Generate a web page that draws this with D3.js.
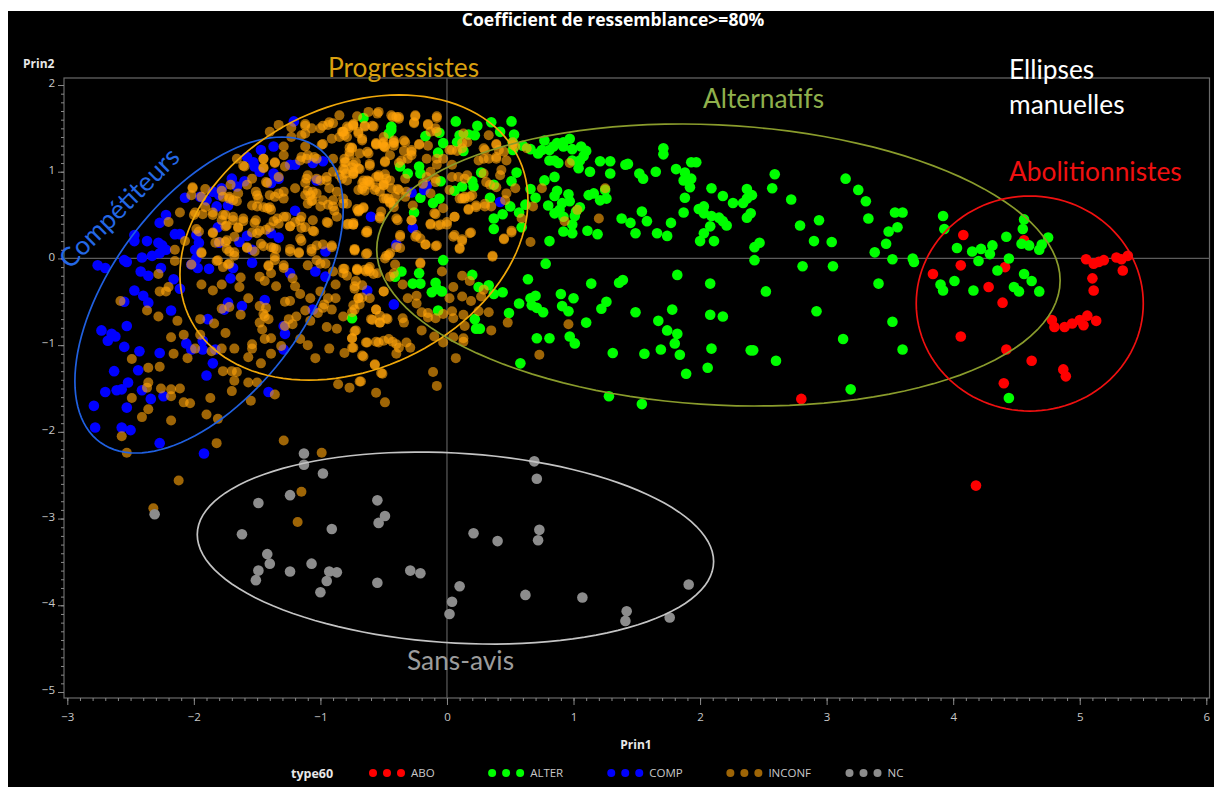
<!DOCTYPE html>
<html>
<head>
<meta charset="utf-8">
<script src="https://cdn.jsdelivr.net/npm/d3@7"></script>
<style>
  html, body { margin: 0; padding: 0; background: #fff; }
  svg { display: block; }
  text { font-family: "Open Sans", sans-serif; }
  .big { font-family: Lato, sans-serif; font-size: 26.3px; }
</style>
</head>
<body>
<div id="graph"></div>
<script>
// The data as [Prin1, Prin2]
const aboPoints = [[2.80,-1.62],[4.08,0.27],[4.56,0.21],[4.06,-0.08],[4.41,-0.10],[3.84,-0.18],[4.28,-0.33],[4.39,-0.51],[4.06,-0.90],[4.42,-1.05],[4.62,-1.18],[4.40,-1.44],[4.87,-1.28],[4.89,-1.36],[4.18,-2.62],[5.05,-0.01],[5.11,-0.06],[5.15,-0.04],[5.19,-0.02],[5.29,0.01],[5.33,-0.01],[5.38,0.03],[5.34,-0.14],[5.10,-0.23],[5.11,-0.37],[4.78,-0.71],[4.80,-0.79],[4.88,-0.79],[4.94,-0.75],[5.00,-0.71],[5.03,-0.77],[5.06,-0.66],[5.13,-0.72]];

const alterPoints = [[-0.66,1.62],[-0.44,1.52],[-0.44,1.48],[-0.46,1.44],[0.07,1.58],[0.24,1.53],[0.35,1.57],[0.51,1.58],[0.42,1.46],[0.53,1.43],[-0.06,1.45],[-0.17,1.41],[-0.03,1.33],[0.10,1.42],[0.17,1.43],[0.22,1.42],[0.08,1.34],[-0.07,1.22],[0.13,1.24],[0.52,1.25],[0.52,1.34],[0.60,1.30],[0.66,1.26],[0.72,1.21],[0.75,1.25],[0.77,1.36],[0.81,1.25],[0.84,1.29],[0.87,1.33],[0.92,1.34],[0.97,1.38],[0.92,1.29],[0.99,1.26],[1.06,1.29],[1.10,1.24],[1.08,1.18],[0.81,1.13],[0.88,1.10],[0.85,1.13],[0.99,1.13],[1.05,1.13],[1.04,1.04],[1.13,1.00],[1.21,1.12],[1.29,1.12],[1.29,0.98],[1.41,1.08],[1.43,1.09],[1.52,0.98],[1.55,0.92],[1.65,1.00],[1.71,1.27],[1.71,1.20],[1.81,1.03],[1.88,0.99],[1.93,1.11],[1.97,1.11],[1.93,0.92],[1.87,0.90],[1.92,0.82],[1.88,0.70],[2.09,0.81],[2.18,0.72],[2.26,0.64],[2.34,0.64],[2.37,0.80],[2.37,0.69],[2.37,0.47],[1.99,0.57],[2.03,0.60],[2.03,0.52],[2.09,0.49],[2.15,0.47],[2.18,0.43],[2.21,0.38],[2.08,0.37],[2.03,0.29],[2.00,0.20],[2.11,0.20],[1.87,0.53],[1.54,0.54],[1.58,0.43],[1.38,0.46],[1.45,0.41],[1.49,0.29],[1.66,0.29],[1.74,0.26],[1.77,0.41],[0.77,0.90],[0.85,0.94],[0.66,0.80],[0.70,0.70],[0.87,0.78],[0.85,0.72],[0.96,0.74],[0.97,0.66],[0.91,0.64],[0.80,0.61],[0.89,0.56],[0.85,0.52],[0.92,0.48],[1.05,0.59],[1.02,0.54],[1.01,0.49],[0.99,0.39],[0.92,0.31],[0.99,0.29],[1.11,0.32],[1.19,0.28],[1.12,0.73],[1.16,0.75],[1.25,0.79],[1.21,0.67],[1.26,0.69],[0.62,0.62],[0.50,0.60],[0.44,0.51],[0.37,0.46],[0.37,0.34],[0.57,0.53],[0.59,0.36],[0.81,0.20],[0.55,0.99],[0.51,0.89],[0.27,0.99],[0.20,0.89],[0.21,0.83],[0.12,0.83],[0.06,0.78],[-0.05,0.89],[-0.31,0.98],[-0.22,1.06],[-0.21,0.98],[-0.37,1.06],[-0.21,0.70],[-0.06,0.69],[-0.11,0.64],[-0.26,0.53],[0.34,0.70],[0.37,0.85],[-0.03,-0.02],[0.78,-0.06],[-0.36,-0.15],[-0.22,-0.17],[-0.41,-0.21],[-0.27,-0.29],[-0.21,-0.29],[-0.09,-0.28],[-0.12,-0.39],[-0.08,-0.35],[-0.04,-0.38],[0.20,-0.19],[0.33,-0.31],[0.25,-0.33],[0.37,-0.41],[0.44,-0.39],[-0.07,-0.60],[0.22,-0.70],[0.23,-0.81],[0.26,-0.81],[0.49,-0.63],[0.57,-0.52],[0.64,-0.24],[0.66,-0.46],[0.70,-0.43],[0.67,-0.54],[0.71,-0.57],[0.76,-0.62],[0.90,-0.41],[1.00,-0.46],[0.91,-0.55],[0.96,-0.61],[1.14,-0.29],[1.36,-0.28],[1.39,-0.25],[1.26,-0.50],[1.22,-0.58],[1.10,-0.74],[1.49,-0.62],[1.78,-0.59],[1.67,-0.72],[1.82,-0.19],[2.08,-0.29],[2.08,-0.65],[2.18,-0.67],[1.74,-0.83],[1.82,-0.87],[1.80,-0.98],[1.69,-1.05],[1.84,-1.11],[2.09,-1.04],[2.40,-1.06],[2.06,-1.26],[1.89,-1.33],[1.56,-1.10],[1.31,-1.09],[1.01,-0.98],[0.97,-0.90],[0.81,-0.92],[0.71,-0.92],[0.58,-1.21],[1.28,-1.59],[1.54,-1.68],[-0.75,-0.69],
  [2.59,0.97],[2.57,0.81],[2.72,0.68],[3.15,0.92],[3.25,0.79],[3.31,0.66],[3.33,0.46],[3.54,0.53],[3.60,0.53],[3.56,0.36],[3.49,0.31],[3.47,0.17],[3.38,0.07],[3.52,-0.01],[3.68,0.00],[3.69,-0.04],[3.92,0.49],[3.93,0.34],[2.79,0.38],[2.94,0.44],[2.90,0.20],[3.04,0.19],[2.81,-0.09],[3.05,-0.09],[2.47,0.18],[2.43,0.13],[2.43,-0.02],[2.52,-0.38],[3.41,-0.29],[2.92,-0.61],[3.52,-0.73],[3.13,-0.93],[3.60,-1.05],[2.42,-1.06],[2.60,-1.18],[3.19,-1.51],[2.41,0.73],[2.40,0.52],
  [4.03,0.12],[4.15,0.08],[4.22,0.11],[4.31,0.15],[4.42,0.25],[4.29,0.05],[4.20,-0.03],[4.44,0.00],[4.35,-0.14],[4.56,-0.18],[4.62,-0.26],[4.48,-0.33],[4.52,-0.38],[4.68,-0.38],[4.16,-0.37],[4.01,-0.26],[3.90,-0.30],[3.92,-0.37],[4.44,-1.61],[4.56,0.45],[4.55,0.34],[4.54,0.17],[4.60,0.15],[4.68,0.10],[4.70,0.16],[4.75,0.24]];

const compPoints = [[-1.21,1.58],[-1.47,1.25],[-1.37,1.29],[-1.58,1.17],[-1.53,1.11],[-1.52,1.06],[-1.48,1.00],[-1.37,0.98],[-1.33,0.92],[-1.39,0.87],[-1.70,0.92],[-1.66,0.83],[-1.60,0.89],[-1.24,1.08],[-1.20,1.08],[-1.06,1.10],[-0.98,1.12],[-1.03,0.90],[-1.78,0.81],[-1.85,0.77],[-1.80,0.73],[-1.90,0.67],[-1.82,0.60],[-1.73,0.61],[-1.95,0.71],[-2.07,0.70],[-1.20,0.55],[-0.60,0.48],[-2.22,0.50],[-2.27,0.41],[-1.81,0.36],[-2.15,0.28],[-2.11,0.28],[-2.47,0.27],[-2.47,0.20],[-2.37,0.20],[-2.28,0.18],[-2.25,0.15],[-2.22,0.10],[-2.27,0.06],[-2.33,0.03],[-2.41,0.01],[-2.55,-0.02],[-2.53,-0.04],[-2.76,-0.08],[-2.70,-0.11],[-1.98,0.27],[-1.96,0.18],[-1.99,0.10],[-1.98,0.00],[-2.02,-0.07],[-1.97,-0.11],[-1.88,-0.12],[-2.26,-0.11],[-2.42,-0.15],[-2.36,-0.20],[-2.16,-0.24],[-2.11,-0.35],[-2.47,-0.37],[-2.40,-0.43],[-2.36,-0.51],[-2.55,-0.50],[-2.18,-0.60],[-1.80,0.18],[-1.64,0.19],[-1.58,0.26],[-1.39,0.29],[-1.33,0.24],[-1.54,0.10],[-0.96,0.08],[-1.54,-0.05],[-1.69,-0.11],[-1.71,-0.23],[-1.04,-0.15],[-0.96,-0.21],[-1.24,-0.17],[-0.63,-0.37],[-1.73,-0.51],[-1.76,-0.59],[-1.62,-0.55],[-1.44,-0.48],[-1.06,-0.59],[-1.89,-0.70],[-1.29,-0.78],[-1.28,-0.87],[-1.29,-1.05],[-2.73,-0.83],[-2.65,-0.87],[-2.62,-0.90],[-2.68,-0.95],[-2.53,-0.78],[-2.55,-1.02],[-2.43,-1.07],[-2.27,-1.09],[-2.06,-0.98],[-2.02,-1.05],[-1.93,-0.95],[-1.93,-1.05],[-1.83,-1.05],[-1.85,-1.21],[-1.90,-1.35],[-2.63,-1.30],[-2.44,-1.29],[-2.52,-1.43],[-2.61,-1.52],[-2.57,-1.51],[-2.70,-1.54],[-2.41,-1.52],[-2.34,-1.62],[-2.24,-1.59],[-2.53,-1.72],[-2.79,-1.70],[-2.78,-1.95],[-2.57,-1.95],[-2.50,-1.98],[-2.27,-2.13],[-1.41,-1.54],[-1.92,-2.25],[-0.18,0.79],[0.42,0.65],[-0.27,0.35],[-0.40,0.16],[-0.42,-0.53],[-0.28,0.76],[-0.16,0.84]];

const inconfPoints = [[-0.85,1.65],[-0.62,1.69],[-0.55,1.67],[-0.70,1.44],[-1.33,1.54],[-1.40,1.46],[-1.23,1.51],[-1.12,1.53],[-1.07,1.50],[-1.00,1.50],[-0.94,1.54],[-0.90,1.56],[-0.82,1.46],[-0.78,1.50],[-0.74,1.54],[-0.65,1.52],[-0.58,1.52],[-0.40,1.63],[-1.15,1.42],[-1.23,1.40],[-0.91,1.38],[-0.85,1.40],[-0.67,1.36],[-0.56,1.31],[-0.49,1.29],[-0.42,1.33],[-1.29,1.29],[-0.75,1.27],[-0.99,1.31],[-1.12,1.29],[-0.63,1.23],[-0.77,1.19],[-1.11,1.15],[-1.16,1.13],[-1.05,1.17],[-0.80,1.11],[-0.74,1.08],[-0.61,1.07],[-0.70,1.04],[-1.45,1.15],[-1.36,1.10],[-1.29,1.19],[-1.66,1.15],[-1.60,1.06],[-1.45,1.04],[-1.28,1.06],[-0.90,1.00],[-0.80,0.98],[-0.74,0.97],[-1.10,0.96],[-1.00,0.90],[-0.95,0.94],[-0.63,0.90],[-0.54,0.94],[-0.50,0.87],[-0.67,0.87],[-0.61,0.85],[-1.12,0.87],[-1.20,0.81],[-1.29,0.77],[-1.42,0.87],[-1.58,0.85],[-1.71,0.85],[-2.01,0.81],[-1.91,0.80],[-2.02,0.73],[-1.94,0.71],[-1.77,0.71],[-1.72,0.69],[-1.66,0.66],[-1.50,0.73],[-1.36,0.71],[-1.29,0.69],[-1.42,0.58],[-1.50,0.60],[-1.39,0.56],[-1.08,0.73],[-1.03,0.75],[-1.07,0.66],[-0.93,0.81],[-0.87,0.77],[-0.82,0.69],[-1.00,0.60],[-0.94,0.62],[-0.90,0.60],[-0.70,0.54],[-0.66,0.58],[-0.57,0.79],[-0.44,0.81],[-0.46,0.69],[-0.42,0.64],[-0.52,0.54],[-2.11,0.53],[-2.00,0.50],[-1.93,0.51],[-1.85,0.50],[-1.75,0.50],[-1.69,0.44],[-1.61,0.43],[-1.52,0.41],[-1.37,0.43],[-1.29,0.48],[-1.16,0.44],[-1.06,0.44],[-0.94,0.41],[-0.79,0.39],[-0.74,0.39],[-2.20,0.42],[-1.96,0.31],[-1.85,0.29],[-1.75,0.37],[-1.65,0.35],[-1.50,0.29],[-1.43,0.33],[-1.24,0.37],[-1.15,0.35],[-1.05,0.31],[-0.64,0.30],[-2.07,0.20],[-2.15,0.10],[-1.94,0.06],[-1.75,0.19],[-1.83,0.18],[-1.72,0.08],[-1.68,0.03],[-1.58,0.12],[-1.52,0.08],[-1.45,0.14],[-1.37,0.12],[-1.24,0.08],[-1.17,0.06],[-1.15,0.20],[-1.07,0.08],[-0.98,0.16],[-0.91,0.13],[-0.73,0.09],[-0.64,0.05],[-0.46,0.04],[-2.15,-0.03],[-2.02,-0.07],[-1.82,-0.03],[-1.73,-0.07],[-1.36,-0.02],[-1.03,-0.02],[-1.41,-0.09],[-1.29,-0.11],[-1.39,-0.17],[-1.48,-0.21],[-1.44,-0.26],[-1.63,-0.22],[-1.22,-0.23],[-1.20,-0.32],[-1.16,-0.41],[-1.35,-0.32],[-0.90,-0.15],[-0.82,-0.17],[-0.71,-0.14],[-0.64,-0.15],[-0.55,-0.17],[-0.42,-0.17],[-0.88,-0.30],[-0.72,-0.26],[-0.50,-0.38],[-1.00,-0.38],[-1.78,-0.30],[-1.94,-0.30],[-1.85,-0.37],[-1.64,-0.33],[-2.27,-0.38],[-2.20,-0.33],[-2.28,-0.18],[-2.22,-0.38],[-2.58,-0.49],[-1.57,-0.46],[-1.28,-0.50],[-1.24,-0.49],[-1.08,-0.46],[-0.94,-0.46],[-0.88,-0.46],[-0.70,-0.46],[-0.69,-0.53],[-0.73,-0.59],[-0.56,-0.59],[-1.48,-0.55],[-1.43,-0.57],[-1.72,-0.56],[-1.63,-0.65],[-1.78,-0.58],[-1.12,-0.60],[-0.98,-0.57],[-0.91,-0.59],[-2.37,-0.60],[-2.28,-0.67],[-2.13,-0.72],[-1.95,-0.70],[-1.84,-0.75],[-1.44,-0.67],[-0.82,-0.67],[-0.59,-0.71],[-0.53,-0.74],[-0.47,-0.70],[-1.48,-0.74],[-1.46,-0.82],[-1.28,-0.78],[-1.22,-0.76],[-1.19,-0.67],[-1.08,-0.72],[-0.95,-0.79],[-0.87,-0.81],[-0.73,-0.84],[-1.75,-0.86],[-2.08,-0.88],[-2.18,-0.91],[-1.95,-0.88],[-1.44,-0.93],[-1.39,-0.92],[-1.16,-0.93],[-0.75,-0.92],[-0.63,-0.97],[-0.54,-0.97],[-0.46,-0.93],[-0.40,-0.99],[-1.10,-1.00],[-1.54,-0.99],[-1.54,-1.04],[-1.68,-1.04],[-1.78,-1.04],[-1.99,-1.04],[-1.86,-1.07],[-1.31,-1.01],[-0.93,-1.04],[-0.75,-1.03],[-0.81,-1.09],[-0.66,-1.13],[-1.39,-1.10],[-1.57,-1.14],[-2.16,-1.10],[-2.05,-1.15],[-2.49,-1.16],[-1.04,-1.15],[-1.47,-1.21],[-0.57,-1.22],[-2.36,-1.26],[-2.27,-1.25],[-1.77,-1.30],[-1.70,-1.30],[-1.66,-1.31],[-0.52,-1.32],[-1.68,-1.41],[-1.57,-1.43],[-1.50,-1.43],[-2.36,-1.43],[-0.86,-1.45],[-0.77,-1.49],[-0.68,-1.42],[-1.70,-1.53],[-2.26,-1.50],[-2.18,-1.51],[-2.11,-1.50],[-2.37,-1.49],[-1.36,-1.57],[-0.56,-1.55],[-2.49,-1.61],[-2.18,-1.59],[-1.87,-1.61],[-1.55,-1.64],[-2.08,-1.66],[-2.03,-1.67],[-0.49,-1.66],[-2.36,-1.74],[-2.41,-1.83],[-1.90,-1.80],[-1.81,-1.85],[-2.18,-1.87],[-2.57,-2.05],[-1.82,-2.13],[-1.29,-2.10],[-2.53,-2.24],[-2.12,-2.56],[-2.32,-2.88],[-0.99,-2.24],[-1.15,-2.69],[-1.18,-3.04],
  [-0.43,1.63],[-0.38,1.61],[-0.25,1.64],[-0.08,1.62],[-0.26,1.56],[-0.15,1.54],[-0.13,1.46],[-0.08,1.46],[0.13,1.44],[0.33,1.42],[-0.56,1.32],[-0.50,1.29],[-0.42,1.34],[-0.33,1.34],[-0.22,1.31],[-0.50,1.34],[-0.34,1.24],[-0.28,1.23],[-0.16,1.15],[0.02,1.25],[0.08,1.24],[0.12,1.33],[0.16,1.34],[0.30,1.25],[0.39,1.31],[0.41,1.25],[0.52,1.31],[0.25,1.13],[0.33,1.15],[0.39,1.15],[0.47,1.13],[0.54,1.29],[0.63,1.27],[0.97,1.10],[-0.49,1.11],[-0.08,1.08],[0.04,1.08],[-0.38,1.10],[-0.31,1.15],[0.43,1.02],[0.29,0.98],[0.14,0.92],[0.04,0.94],[-0.09,0.92],[-0.16,0.94],[-0.33,0.92],[-0.48,0.92],[-0.56,0.94],[-0.62,0.89],[-0.66,0.83],[-0.70,0.79],[-0.50,0.85],[-0.38,0.79],[-0.33,0.71],[-0.41,0.71],[-0.48,0.69],[0.34,0.85],[0.39,0.82],[0.47,0.75],[0.54,0.81],[0.46,0.67],[0.14,0.69],[0.18,0.71],[0.12,0.69],[0.02,0.79],[0.75,0.81],[1.25,0.81],[0.23,0.59],[0.30,0.60],[0.35,0.60],[0.17,0.56],[-0.03,0.58],[-0.09,0.51],[-0.27,0.61],[-0.45,0.64],[-0.69,0.56],[-0.53,0.46],[-0.39,0.44],[-0.28,0.44],[0.06,0.48],[0.68,0.60],[0.59,0.46],[1.20,0.46],[1.03,0.56],[0.93,0.43],[-0.13,0.39],[-0.07,0.38],[0.00,0.39],[-0.25,0.25],[-0.21,0.23],[-0.17,0.16],[-0.37,0.25],[-0.63,0.30],[-0.74,0.39],[0.18,0.29],[0.05,0.25],[0.12,0.20],[0.10,0.11],[0.51,0.30],[0.45,0.22],[0.66,0.19],[-0.09,0.14],[-0.37,0.12],[-0.45,0.06],[-0.49,0.00],[0.36,0.02],[-0.21,-0.06],[-0.41,-0.07],[-0.71,-0.13],[-0.61,-0.15],[-0.58,-0.18],[-0.65,-0.13],[-0.04,-0.15],[-0.45,-0.21],[0.12,-0.20],[0.18,-0.26],[-0.35,-0.30],[-0.73,-0.32],[-0.70,-0.46],[-0.61,-0.46],[-0.50,-0.38],[-0.24,-0.43],[-0.31,-0.46],[0.05,-0.33],[0.29,-0.36],[0.27,-0.44],[0.02,-0.46],[0.12,-0.44],[0.19,-0.49],[-0.24,-0.52],[-0.56,-0.59],[-0.15,-0.63],[-0.03,-0.64],[0.04,-0.61],[0.13,-0.65],[0.25,-0.61],[0.33,-0.62],[-0.09,-0.69],[0.05,-0.69],[-0.35,-0.69],[-0.60,-0.70],[-0.53,-0.74],[-0.48,-0.69],[-0.34,-0.74],[-0.72,-0.83],[-0.20,-0.83],[0.14,-0.78],[0.48,-0.74],[0.35,-0.83],[0.96,-0.76],[-0.75,-0.92],[-0.64,-0.97],[-0.56,-0.96],[-0.50,-0.95],[-0.32,-0.97],[-0.29,-1.03],[-0.38,-1.03],[-0.40,-1.10],[-0.10,-0.90],[-0.03,-0.97],[0.05,-0.91],[0.13,-0.92],[0.13,-0.96],[-0.74,-1.03],[-0.67,-1.12],[0.07,-1.15],[0.73,-1.11],[-0.57,-1.23],[-0.51,-1.33],[-0.11,-1.31],[-0.08,-1.47],[-0.69,-1.42],
  [-1.12,1.55],[-1.12,1.44],[-0.98,1.53],[-0.93,1.57],[-0.82,1.46],[-0.74,1.53],[-0.79,1.40],[-0.98,1.32],[-1.10,1.19],[-1.15,1.17],[-1.03,1.15],[-0.90,1.15],[-0.82,1.03],[-0.75,1.05],[-0.77,1.28],[-0.81,1.15],[-0.85,0.96],[-0.74,0.98],[-1.11,0.92],[-1.03,0.92],[-0.95,0.90],[-1.10,0.78],[-1.06,0.77],[-1.12,0.73],[-1.06,0.67],[-0.98,0.67],[-1.10,0.63],[-0.90,0.67],[-0.89,0.55],[-0.82,0.63],[-0.87,0.48],[-0.95,0.42],[-0.79,0.90],[-0.71,0.57],[-1.45,1.15],[-1.36,1.11],[-1.45,1.05],[-1.61,1.07],[-1.33,0.94],[-1.54,0.92],[-1.43,0.88],[-1.51,0.77],[-1.49,0.69],[-1.40,0.73],[-1.33,0.75],[-1.45,0.59],[-1.40,0.59],[-1.54,0.61],[-1.72,0.71],[-1.78,0.78],[-1.65,0.75],[-1.69,0.67],[-2.01,0.82],[-1.91,0.59],[-1.99,0.53],[-1.85,0.53],[-1.77,0.50],[-1.69,0.48],[-1.61,0.46],[-1.51,0.44],[-1.34,0.46],[-1.27,0.48],[-1.15,0.48],[-1.20,0.42],[-1.24,0.37],[-1.12,0.36],[-1.06,0.32],[-1.33,0.40],[-1.40,0.36],[-1.48,0.32],[-1.54,0.30],[-1.65,0.36],[-1.74,0.38],[-1.78,0.44],[-1.98,0.34],[-1.85,0.30],[-1.74,0.21],[-1.68,0.25],[-1.80,0.19],[-1.58,0.13],[-1.47,0.17],[-1.39,0.13],[-1.35,0.11],[-1.24,0.11],[-1.17,0.07],[-1.16,0.23],[-1.07,0.11],[-1.03,0.15],[-0.91,0.15],[-0.73,0.11],[-1.74,0.11],[-1.68,0.07],[-1.94,0.07],[-1.36,0.02],[-1.29,-0.08],[-1.41,-0.08],[-1.81,-0.02],[-1.72,-0.06],[-1.77,-0.10],[-1.10,-0.08],[-1.00,-0.06],[-0.96,-0.06],[-0.82,-0.12],
  [-0.71,1.64],[-0.54,1.69],[-0.44,1.65],[-0.38,1.63],[-0.25,1.65],[-0.26,1.57],[-0.08,1.64],[-0.15,1.55],[-0.09,1.50],[-0.74,1.55],[-0.79,1.52],[-0.83,1.46],[-0.81,1.42],[-0.70,1.46],[-0.65,1.53],[-0.59,1.53],[-0.67,1.38],[-0.75,1.28],[-0.77,1.23],[-0.56,1.33],[-0.51,1.32],[-0.50,1.40],[-0.42,1.36],[-0.34,1.36],[-0.49,1.28],[-0.42,1.30],[-0.22,1.32],[-0.15,1.30],[-0.28,1.25],[-0.45,1.19],[-0.69,1.21],[-0.62,1.21],[-0.49,1.12],[-0.36,1.13],[-0.28,1.19],[-0.08,1.15],[-0.03,1.15],[0.04,1.25],[0.12,1.27],[0.29,1.27],[0.39,1.32],[0.45,1.23],[0.52,1.34],[0.29,1.15],[0.39,1.17],[-0.81,1.11],[-0.72,1.11],[-0.61,1.09],[-0.81,1.02],[-0.74,1.00],[-0.69,1.03],[-0.83,0.92],[-0.54,0.96],[-0.49,0.97],[-0.66,0.90],[-0.61,0.88],[-0.65,0.78],[-0.67,0.80],[-0.56,0.82],[-0.50,0.84],[-0.45,0.90],[-0.53,0.77],[-0.50,0.69],[-0.79,0.63],[-0.70,0.55],[-0.66,0.59],[-0.45,0.65],[-0.39,0.80],[-0.32,0.77],[-0.42,0.59],[-0.13,1.00],[-0.09,0.88],[-0.19,0.86],[-0.13,0.75],[0.09,0.94],[0.16,0.96],[0.31,0.88],[0.42,0.96],[0.10,0.69],[0.14,0.71],[0.20,0.73],[0.30,0.63],[0.23,0.61],[0.17,0.57],[-0.53,0.48],[-0.78,0.40],[-0.74,0.41],[-0.63,0.32],[-0.40,0.46],[-0.28,0.44],[-0.10,0.52],[0.06,0.48],[-0.13,0.40],[-0.05,0.39],[0.00,0.42],[-0.24,0.27],[-0.17,0.16],[-0.37,0.27],[-0.08,0.15],[0.19,0.30],[0.06,0.27],[0.12,0.22],[0.10,0.12],[0.45,0.23],[0.51,0.32],[-0.73,0.10],[-0.63,0.06],[-0.48,0.03],[-0.40,0.13],[0.36,0.03],[-0.21,-0.05],[-0.71,-0.12],[-0.62,-0.12],[-0.81,-0.12],
  [-0.79,-0.20],[-0.61,-0.10],[-0.73,-0.35],[-0.67,-0.31],[-0.67,-0.45],[-0.74,-0.54],[-0.75,-0.62],[-1.25,-0.70],[-1.02,-0.63],[-0.97,-0.53],[-0.53,-0.66],[-0.20,-0.62],[-0.15,-0.68],[-0.43,-0.96],[-1.45,-0.64],[-1.41,-0.70]];

const ncPoints = [[-1.13,-2.25],[-1.13,-2.38],[-0.98,-2.48],[0.69,-2.34],[0.71,-2.54],[-1.24,-2.73],[-1.49,-2.82],[-0.55,-2.79],[-0.49,-2.97],[-0.54,-3.05],[-0.91,-3.12],[-1.62,-3.18],[-2.31,-2.95],[0.21,-3.17],[0.40,-3.26],[0.73,-3.13],[0.72,-3.25],[-1.42,-3.41],[-1.40,-3.52],[-1.49,-3.60],[-1.51,-3.71],[-1.24,-3.61],[-1.07,-3.52],[-0.93,-3.61],[-0.87,-3.62],[-0.95,-3.72],[-1.00,-3.85],[-0.55,-3.74],[-0.29,-3.60],[-0.21,-3.63],[0.10,-3.78],[0.04,-3.96],[0.02,-4.10],[0.62,-3.88],[1.07,-3.91],[1.42,-4.07],[1.41,-4.18],[1.76,-4.14],[1.91,-3.76]];

// Categories, in drawing order
const typeNames = ["ABO", "ALTER", "COMP", "INCONF", "NC"];
const typeValues = [aboPoints, alterPoints, compPoints, inconfPoints, ncPoints];
const typeColors = ["#ff0000", "#00ff00", "#0000ff", "#ffa30a", "#8c8c8c"];
const typeOpacity = [1, 1, 1, 0.62, 1];

// Hand drawn ellipses: centre, half width, half height, tilt (all in axis units)
const ellipseNames = ["Compétiteurs", "Progressistes", "Alternatifs", "Abolitionnistes", "Sans-avis"];
const ellipseCx = [-1.88, -0.735, 2.145, 4.605, 0.067];
const ellipseCy = [-0.422, 0.241, -0.076, -0.52, -3.34];
const ellipseHw = [1.06, 1.375, 2.70, 0.897, 2.04];
const ellipseHh = [1.822, 1.644, 1.626, 1.24, 1.107];
const ellipseTilt = [0.545, 0.26, -0.11, 0, -0.14];
const ellipseColors = ["#2060e0", "#f0a80a", "#8a9c2c", "#f01010", "#c4c4c4"];

const xTicks = [-3, -2, -1, 0, 1, 2, 3, 4, 5, 6];
const yTicks = [-5, -4, -3, -2, -1, 0, 1, 2];

const W = 1214, H = 787;
const frame = { left: 64, top: 78, right: 1209.5, bottom: 698 };

const x = d3.scaleLinear().domain([-3, 6]).range([67.3, 1206.3]);
const y = d3.scaleLinear().domain([-5, 2]).range([692, 85]);

const svg = d3.select("#graph").append("svg").attr("width", W).attr("height", H);

// Black panel, the picture has a white strip top and left
svg.append("rect").attr("x", 8).attr("y", 11).attr("width", W - 8).attr("height", H - 11).attr("fill", "#000");

// Frame
svg.append("rect")
  .attr("x", frame.left).attr("y", frame.top)
  .attr("width", frame.right - frame.left).attr("height", frame.bottom - frame.top)
  .attr("fill", "none").attr("stroke", "#6a6a6a").attr("stroke-width", 1.2);

// Reference lines at 0
svg.append("line").attr("x1", x(0)).attr("x2", x(0)).attr("y1", frame.top).attr("y2", frame.bottom)
  .attr("stroke", "#5c5c5c").attr("stroke-width", 1.2);
svg.append("line").attr("x1", frame.left).attr("x2", frame.right).attr("y1", y(0)).attr("y2", y(0))
  .attr("stroke", "#5c5c5c").attr("stroke-width", 1.2);

// Axes
const xAxis = d3.axisBottom(x).tickValues(xTicks).tickSize(7).tickPadding(8).tickFormat(d3.format("d"));
const yAxis = d3.axisLeft(y).tickValues(yTicks).tickSize(6).tickPadding(3).tickFormat(d3.format("d"));
const xMinor = d3.axisBottom(x).tickValues(d3.range(-30, 61).map((d) => d / 10)).tickSize(3).tickFormat("");
const yMinor = d3.axisLeft(y).tickValues(d3.range(-50, 21).map((d) => d / 10)).tickSize(3).tickFormat("");

[
  [xMinor, "translate(0," + frame.bottom + ")"],
  [yMinor, "translate(" + frame.left + ",0)"],
  [xAxis, "translate(0," + frame.bottom + ")"],
  [yAxis, "translate(" + frame.left + ",0)"],
].forEach(([axis, tr]) => {
  const g = svg.append("g").attr("transform", tr).call(axis);
  g.select(".domain").remove();
  g.selectAll("line").attr("stroke", "#8a8a8a");
  g.selectAll("text").attr("fill", "#c8c8c8").style("font-size", "11.5px");
  if (axis === yAxis) g.selectAll("text").attr("dy", "0.14em");
});

// Points
typeNames.forEach((name, i) => {
  svg.append("g").attr("class", "type-" + name)
    .selectAll("circle")
    .data(typeValues[i])
    .enter()
    .append("circle")
    .attr("cx", (d) => x(d[0]))
    .attr("cy", (d) => y(d[1]))
    .attr("r", name === "INCONF" ? 5 : 5.3)
    .attr("fill", typeColors[i])
    .attr("fill-opacity", typeOpacity[i]);
});

// Ellipses
const curve = d3.line().curve(d3.curveLinearClosed);
ellipseNames.forEach((name, i) => {
  const pts = d3.range(0, 360, 3).map((deg) => {
    const t = (deg * Math.PI) / 180;
    const r = ellipseTilt[i];
    return [
      x(ellipseCx[i] + ellipseHw[i] * Math.cos(t)),
      y(ellipseCy[i] + ellipseHh[i] * (r * Math.cos(t) + Math.sqrt(1 - r * r) * Math.sin(t))),
    ];
  });
  svg.append("path").attr("d", curve(pts)).attr("fill", "none")
    .attr("stroke", ellipseColors[i]).attr("stroke-width", 1.7);
});

// Hand written labels
function bigLabel(str, px, py, color) {
  return svg.append("text").attr("class", "big").attr("x", px).attr("y", py).attr("fill", color).text(str);
}
bigLabel("Progressistes", 328, 77, "#d9a00f");
bigLabel("Alternatifs", 703, 108, "#8fb04c");
bigLabel("Abolitionnistes", 1009, 181, "#f01010");
bigLabel("Sans-avis", 407, 670, "#9c9c9c");
bigLabel("Ellipses", 1009, 79, "#ffffff");
bigLabel("manuelles", 1009, 114, "#ffffff");
bigLabel("Compétiteurs", 70, 270, "#2468e6").attr("transform", "rotate(-45 70 270)");

// Title and axis names
svg.append("text").attr("x", 613).attr("y", 26).attr("text-anchor", "middle")
  .attr("fill", "#fff").style("font-size", "17.5px").style("font-weight", "bold")
  .text("Coefficient de ressemblance>=80%");
svg.append("text").attr("x", 23).attr("y", 68).attr("fill", "#e8e8e8")
  .style("font-size", "12px").style("font-weight", "bold").text("Prin2");
svg.append("text").attr("x", 636).attr("y", 749).attr("text-anchor", "middle").attr("fill", "#e8e8e8")
  .style("font-size", "12px").style("font-weight", "bold").text("Prin1");

// Legend
svg.append("text").attr("x", 291).attr("y", 778).attr("fill", "#e8e8e8")
  .style("font-size", "12.5px").style("font-weight", "bold").text("type60");
const legendX = d3.scalePoint().domain(typeNames).range([373, 849.5]);
typeNames.forEach((name, i) => {
  const g = svg.append("g").attr("transform", "translate(" + legendX(name) + ",773)");
  g.selectAll("circle").data(d3.range(3)).enter().append("circle")
    .attr("cx", (d) => d * 14).attr("r", 4)
    .attr("fill", typeColors[i]).attr("fill-opacity", name === "INCONF" ? 0.62 : 1);
  g.append("text").attr("x", 38).attr("y", 4).attr("fill", "#c8c8c8")
    .style("font-size", "11.5px").text(name);
});
</script>
</body>
</html>
